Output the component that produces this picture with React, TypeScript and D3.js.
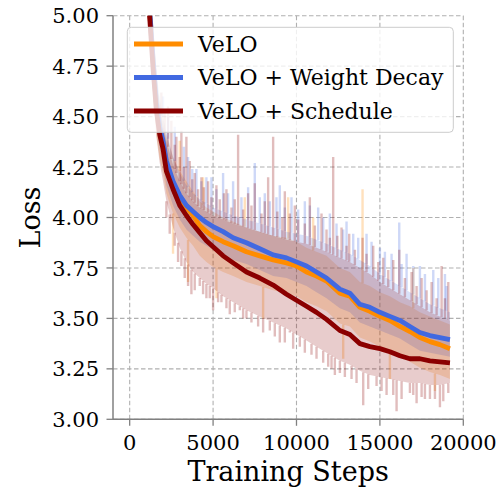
import { useEffect, useRef } from 'react';
import * as d3 from 'd3';

// training steps the curves were sampled at
const steps = [1000, 1200, 1400, 1600, 1800, 2000, 2200, 2600, 3000, 3400, 3800, 4200, 4600, 5000, 5600, 6200, 7000, 7800, 8600, 9400, 10000, 10600, 11200, 11800, 12600, 13200, 13800, 14400, 15000, 15600, 16200, 16800, 17400, 18000, 18600, 19200];

// mean loss per run
const veloMean = [5.35, 5.02, 4.78, 4.56, 4.44, 4.37, 4.27, 4.17, 4.10, 4.05, 4.01, 3.96, 3.93, 3.905, 3.88, 3.86, 3.83, 3.81, 3.79, 3.775, 3.76, 3.73, 3.71, 3.685, 3.625, 3.61, 3.555, 3.535, 3.51, 3.49, 3.46, 3.435, 3.405, 3.385, 3.37, 3.35];
const wdMean = [5.36, 5.03, 4.79, 4.57, 4.45, 4.38, 4.28, 4.18, 4.11, 4.06, 4.03, 4.00, 3.975, 3.955, 3.93, 3.90, 3.875, 3.845, 3.815, 3.80, 3.78, 3.76, 3.73, 3.70, 3.645, 3.625, 3.57, 3.555, 3.53, 3.51, 3.49, 3.46, 3.43, 3.415, 3.405, 3.395];
const schedMean = [5.33, 4.99, 4.74, 4.53, 4.41, 4.34, 4.23, 4.14, 4.06, 4.01, 3.965, 3.925, 3.885, 3.855, 3.81, 3.775, 3.73, 3.70, 3.665, 3.62, 3.59, 3.56, 3.53, 3.495, 3.44, 3.42, 3.375, 3.36, 3.35, 3.335, 3.315, 3.30, 3.30, 3.29, 3.285, 3.28];

// min / max envelopes
const veloHi = [5.5, 5.15, 4.92, 4.7, 4.58, 4.5, 4.4, 4.3, 4.23, 4.18, 4.13, 4.08, 4.05, 4.03, 4.0, 3.98, 3.95, 3.93, 3.91, 3.9, 3.88, 3.85, 3.83, 3.81, 3.75, 3.73, 3.68, 3.66, 3.63, 3.61, 3.58, 3.56, 3.53, 3.51, 3.49, 3.47];
const veloLo = [5.2, 4.88, 4.63, 4.41, 4.29, 4.22, 4.12, 4.02, 3.95, 3.9, 3.86, 3.81, 3.78, 3.755, 3.73, 3.71, 3.68, 3.66, 3.64, 3.625, 3.61, 3.58, 3.56, 3.535, 3.475, 3.46, 3.405, 3.385, 3.36, 3.34, 3.31, 3.285, 3.255, 3.235, 3.22, 3.2];
const wdHi = [5.5, 5.15, 4.92, 4.72, 4.6, 4.5, 4.42, 4.3, 4.22, 4.16, 4.12, 4.09, 4.07, 4.05, 4.03, 4.01, 3.99, 3.97, 3.95, 3.93, 3.92, 3.91, 3.89, 3.87, 3.84, 3.82, 3.79, 3.76, 3.72, 3.69, 3.66, 3.63, 3.60, 3.57, 3.55, 3.53];
const wdLo = [5.22, 4.92, 4.68, 4.46, 4.34, 4.26, 4.16, 4.06, 3.99, 3.94, 3.91, 3.88, 3.86, 3.84, 3.82, 3.79, 3.77, 3.74, 3.71, 3.70, 3.68, 3.66, 3.63, 3.60, 3.55, 3.53, 3.48, 3.46, 3.44, 3.42, 3.40, 3.37, 3.34, 3.33, 3.32, 3.31];
const schedHi = [5.46, 5.11, 4.88, 4.68, 4.56, 4.46, 4.38, 4.26, 4.18, 4.12, 4.08, 4.05, 4.03, 4.01, 3.99, 3.97, 3.95, 3.93, 3.91, 3.89, 3.88, 3.87, 3.85, 3.83, 3.8, 3.78, 3.75, 3.72, 3.68, 3.65, 3.62, 3.59, 3.56, 3.53, 3.51, 3.49];
const schedLo = [5.2, 4.9, 4.62, 4.4, 4.27, 4.18, 4.08, 3.95, 3.85, 3.78, 3.73, 3.7, 3.67, 3.65, 3.61, 3.58, 3.54, 3.51, 3.48, 3.45, 3.42, 3.39, 3.36, 3.33, 3.29, 3.27, 3.24, 3.22, 3.21, 3.2, 3.19, 3.18, 3.18, 3.17, 3.17, 3.18];

// isolated noisy steps outside the envelope: [step, loss]
const veloSpikes = [[13960, 4.14], [3000, 4.38], [4400, 4.2], [6900, 4.1], [9500, 4.1], [11000, 4.0], [17000, 3.75], [2600, 3.82], [3500, 3.68], [5200, 3.6], [8000, 3.5], [12800, 3.3], [15600, 3.2], [18300, 3.14]];
const wdSpikes = [[2000, 4.6], [2700, 4.45], [3250, 4.35], [4000, 4.24], [4900, 4.2], [5600, 4.22], [6200, 4.18], [7500, 4.27], [8100, 4.12], [9000, 4.16], [9700, 4.1], [10500, 4.08], [11300, 4.05], [12000, 4.02], [13000, 3.98], [14200, 3.92], [15000, 3.85], [16160, 3.975], [16600, 3.82], [17400, 3.76], [18200, 3.74], [18900, 3.72],
  [2300, 4.5], [3500, 4.3], [3750, 4.24], [4300, 4.18], [4600, 4.2], [5200, 4.14], [5900, 4.12], [6700, 4.1], [7100, 4.15], [7800, 4.1], [8400, 4.08], [8800, 4.1], [9300, 4.05], [10100, 4.04], [10800, 4.06], [11600, 4.0], [12400, 3.97], [12800, 3.94], [13400, 3.92], [13700, 3.9], [14500, 3.88], [15300, 3.83], [15700, 3.82], [16300, 3.77], [17000, 3.76], [17700, 3.72], [18500, 3.7], [19000, 3.66]];
const schedSpikes = [[1900, 4.62], [2300, 4.55], [2500, 4.48], [2800, 4.4], [3100, 4.43], [3400, 4.4], [3600, 4.28], [3900, 4.22], [4300, 4.2], [4700, 4.18], [5200, 4.16], [5800, 4.14], [6500, 4.41], [7100, 4.12], [7500, 4.17], [8300, 4.2], [8600, 4.4], [9300, 4.13], [9900, 4.06], [10800, 4.1], [11500, 4.02], [12200, 4.3], [12700, 3.95], [13160, 3.92], [13960, 3.9], [14600, 3.86], [15200, 3.8], [15800, 3.79], [16160, 3.84], [16900, 3.73], [17500, 3.7], [18100, 3.68], [18700, 3.76], [19100, 3.68],
  [2100, 4.52], [2700, 4.36], [3000, 4.3], [3250, 4.25], [3750, 4.19], [4100, 4.14], [4450, 4.15], [4900, 4.1], [5400, 4.09], [5650, 4.12], [6100, 4.05], [6300, 4.09], [6800, 4.04], [7300, 4.06], [7900, 4.02], [8100, 4.08], [8850, 4.03], [9150, 4.0], [9600, 4.02], [10100, 3.99], [10500, 3.97], [11100, 3.96], [11800, 3.94], [12000, 3.9], [12450, 3.91], [13000, 3.86], [13500, 3.84], [14200, 3.82], [14900, 3.78], [15500, 3.74], [16500, 3.7], [17200, 3.66], [17800, 3.64], [18400, 3.6], [18900, 3.6],
  [2400, 3.92], [2900, 3.78], [3300, 3.7], [3700, 3.62], [4200, 3.66], [4600, 3.6], [5000, 3.54], [5500, 3.58], [6000, 3.52], [6600, 3.54], [7000, 3.5], [7700, 3.46], [8400, 3.44], [9000, 3.38], [9600, 3.43], [10200, 3.36], [10900, 3.32], [11600, 3.28], [12100, 3.25], [12600, 3.23], [13300, 3.2], [14000, 3.07], [14800, 3.165], [15400, 3.12], [16000, 3.04], [16800, 3.13], [17200, 3.08], [17700, 3.1], [18000, 3.1], [18600, 3.06], [19100, 3.13],
  [2200, 4.0], [2700, 3.86], [3100, 3.76], [3500, 3.66], [3900, 3.64], [4400, 3.62], [4800, 3.6], [5300, 3.58], [5800, 3.55], [6300, 3.53], [6800, 3.5], [7300, 3.48], [8000, 3.43], [8700, 3.41], [9300, 3.38], [9800, 3.35], [10500, 3.33], [11200, 3.3], [11900, 3.26], [12300, 3.22], [12900, 3.21], [13600, 3.18], [14300, 3.15], [15100, 3.14], [15800, 3.12], [16300, 3.1], [17000, 3.12], [17500, 3.11], [18300, 3.1], [18800, 3.09]];

const xTicks = [0, 5000, 10000, 15000, 20000];
const yTicks = [3.0, 3.25, 3.5, 3.75, 4.0, 4.25, 4.5, 4.75, 5.0];

const series = [
  { name: 'VeLO', color: '#ff8c00', mean: veloMean, hi: veloHi, lo: veloLo, spikes: veloSpikes },
  { name: 'VeLO + Weight Decay', color: '#4169e1', mean: wdMean, hi: wdHi, lo: wdLo, spikes: wdSpikes },
  { name: 'VeLO + Schedule', color: '#8b0000', mean: schedMean, hi: schedHi, lo: schedLo, spikes: schedSpikes },
];

const App = () => {
  const svgRef = useRef(null);

  useEffect(() => {
    const svg = d3.select(svgRef.current);
    svg.selectAll('*').remove();

    const left = 113, right = 463.3, top = 15.7, bottom = 419.3;
    const x = d3.scaleLinear().domain([-1000, 20000]).range([left, right]);
    const y = d3.scaleLinear().domain([3, 5]).range([bottom, top]);
    const font = "'DejaVu Serif', serif";
    const grey = '#808080';

    svg.append('defs').append('clipPath').attr('id', 'plot')
      .append('rect').attr('x', left).attr('y', top).attr('width', right - left).attr('height', bottom - top);

    // grid
    const grid = svg.append('g').attr('stroke', '#b0b0b0').attr('stroke-width', 1.1).attr('stroke-dasharray', '4.5,2.5');
    grid.selectAll('.gx').data(xTicks).enter().append('line')
      .attr('x1', d => x(d)).attr('x2', d => x(d)).attr('y1', top).attr('y2', bottom);
    grid.selectAll('.gy').data(yTicks).enter().append('line')
      .attr('x1', left).attr('x2', right).attr('y1', d => y(d)).attr('y2', d => y(d));

    const plot = svg.append('g').attr('clip-path', 'url(#plot)');

    // shaded envelopes
    series.forEach(s => {
      const area = d3.area<number>()
        .x((d, i) => x(steps[i]))
        .y0((d, i) => y(s.lo[i]))
        .y1((d, i) => y(s.hi[i]));
      plot.append('path').datum(s.mean).attr('d', area).attr('fill', s.color).attr('fill-opacity', 0.2);

      const hiAt = d3.scaleLinear().domain(steps).range(s.hi);
      const loAt = d3.scaleLinear().domain(steps).range(s.lo);
      plot.selectAll(null).data(s.spikes).enter().append('line')
        .attr('x1', d => x(d[0])).attr('x2', d => x(d[0]))
        .attr('y1', d => y(d[1] > hiAt(d[0]) ? hiAt(d[0]) : loAt(d[0])))
        .attr('y2', d => y(d[1]))
        .attr('stroke', s.color).attr('stroke-opacity', 0.26).attr('stroke-width', 2.4);
    });

    // mean curves
    series.forEach(s => {
      const line = d3.line<number>().x((d, i) => x(steps[i])).y(d => y(d));
      plot.append('path').datum(s.mean).attr('d', line)
        .attr('fill', 'none').attr('stroke', s.color).attr('stroke-width', 4.8).attr('stroke-linejoin', 'round');
    });

    // axes
    const ax = svg.append('g').attr('font-family', font).attr('font-size', 21).attr('fill', '#000');
    ax.append('line').attr('x1', left).attr('x2', left).attr('y1', top).attr('y2', bottom).attr('stroke', grey).attr('stroke-width', 1.5);
    ax.append('line').attr('x1', left).attr('x2', right).attr('y1', bottom).attr('y2', bottom).attr('stroke', grey).attr('stroke-width', 1.5);

    xTicks.forEach(t => {
      ax.append('line').attr('x1', x(t)).attr('x2', x(t)).attr('y1', bottom).attr('y2', bottom + 6.5).attr('stroke', grey).attr('stroke-width', 1.3);
      ax.append('text').attr('x', x(t)).attr('y', 449.5).attr('text-anchor', 'middle').text(String(t));
    });
    yTicks.forEach(t => {
      ax.append('line').attr('x1', left - 6.5).attr('x2', left).attr('y1', y(t)).attr('y2', y(t)).attr('stroke', grey).attr('stroke-width', 1.3);
      ax.append('text').attr('x', 99).attr('y', y(t)).attr('dy', '0.36em').attr('text-anchor', 'end').text(d3.format('.2f')(t));
    });

    ax.append('text').attr('x', (left + right) / 2).attr('y', 481).attr('text-anchor', 'middle').attr('font-size', 27).text('Training Steps');
    ax.append('text').attr('transform', `translate(40,${(top + bottom) / 2}) rotate(-90)`).attr('text-anchor', 'middle').attr('font-size', 27).text('Loss');

    // legend
    const lg = svg.append('g').attr('font-family', font).attr('font-size', 22);
    lg.append('rect').attr('x', 127.3).attr('y', 27.3).attr('width', 326).attr('height', 105).attr('rx', 4)
      .attr('fill', '#fff').attr('fill-opacity', 0.8).attr('stroke', '#cccccc').attr('stroke-width', 1);
    series.forEach((s, i) => {
      const yy = 44 + i * 33.5;
      lg.append('line').attr('x1', 134).attr('x2', 183).attr('y1', yy).attr('y2', yy).attr('stroke', s.color).attr('stroke-width', 5);
      lg.append('text').attr('x', 198).attr('y', yy).attr('dy', '0.36em').text(s.name);
    });
  }, []);

  return (
    <div style={{ position: 'absolute', left: 0, top: 0 }}>
      <svg ref={svgRef} width={502} height={488} style={{ display: 'block' }}></svg>
    </div>
  );
};

export default App;
